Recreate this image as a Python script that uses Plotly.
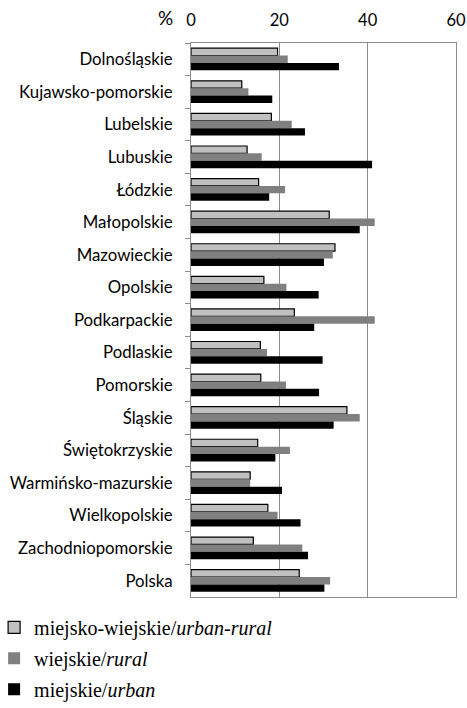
import plotly.graph_objects as go

regions = ["Dolnośląskie", "Kujawsko-pomorskie", "Lubelskie", "Lubuskie", "Łódzkie",
           "Małopolskie", "Mazowieckie", "Opolskie", "Podkarpackie", "Podlaskie",
           "Pomorskie", "Śląskie", "Świętokrzyskie", "Warmińsko-mazurskie",
           "Wielkopolskie", "Zachodniopomorskie", "Polska"]
urban_rural = [19.6, 11.5, 18.2, 12.7, 15.3, 31.3, 32.6, 16.5, 23.4, 15.7, 15.8, 35.3, 15.1, 13.4, 17.4, 14.1, 24.5]
rural = [21.9, 13.0, 22.8, 16.0, 21.3, 41.6, 32.1, 21.6, 41.6, 17.2, 21.5, 38.2, 22.4, 13.4, 19.6, 25.2, 31.5]
urban = [33.5, 18.4, 25.8, 41.0, 17.7, 38.2, 30.1, 28.9, 27.9, 29.8, 29.0, 32.3, 19.1, 20.6, 24.8, 26.5, 30.2]
x_ticks = [0, 20, 40, 60]

names = ["miejsko-wiejskie/<i>urban-rural</i>", "wiejskie/<i>rural</i>", "miejskie/<i>urban</i>"]

fig = go.Figure()
fig.add_trace(go.Bar(y=regions, x=urban_rural, orientation="h", name=names[0],
                     marker=dict(color="#c0c0c0", line=dict(color="#000000", width=1.2)),
                     legendgroup="a"))
fig.add_trace(go.Bar(y=regions, x=rural, orientation="h", name=names[1],
                     marker=dict(color="#808080", line=dict(width=0)), legendgroup="b"))
fig.add_trace(go.Bar(y=regions, x=urban, orientation="h", name=names[2],
                     marker=dict(color="#000000", line=dict(width=0)), legendgroup="c"))

fig.update_layout(
    width=467, height=708,
    margin=dict(l=191, r=11, t=43, b=111, autoexpand=False),
    paper_bgcolor="white", plot_bgcolor="white",
    barmode="group", bargap=0.32, bargroupgap=0,
    font=dict(family="Lato, Liberation Sans, sans-serif", size=16.8, color="#000"),
    xaxis=dict(side="top", range=[0, 60], tickvals=x_ticks, ticks="",
               tickfont=dict(size=16.5), showgrid=True, gridcolor="#8c8c8c", gridwidth=1,
               showline=True, linecolor="#8c8c8c", linewidth=1, mirror=True,
               zeroline=False, fixedrange=True, automargin=False, ticklabelstandoff=9),
    yaxis=dict(autorange="reversed", type="category", tickson="boundaries",
               ticks="outside", ticklen=5, tickcolor="#8c8c8c",
               showline=True, linecolor="#8c8c8c", linewidth=1, mirror=True,
               ticklabelstandoff=14, tickfont=dict(size=16.8), showgrid=False,
               automargin=False, fixedrange=True),
    showlegend=True,
    legend=dict(orientation="v", x=-0.743, xanchor="left", y=-0.0196, yanchor="top",
                traceorder="grouped", tracegroupgap=2,
                font=dict(family="Liberation Serif, Times New Roman, serif", size=20),
                itemwidth=30, bgcolor="rgba(0,0,0,0)"),
    annotations=[dict(text="%", xref="paper", yref="paper", x=-0.062, y=1.0, yshift=26,
                      showarrow=False, xanchor="right", yanchor="middle",
                      font=dict(family="Lato, Liberation Sans, sans-serif", size=19))],
)

fig.write_html("out.html", post_script="document.body.style.margin='0';",
               config={"displayModeBar": False})
